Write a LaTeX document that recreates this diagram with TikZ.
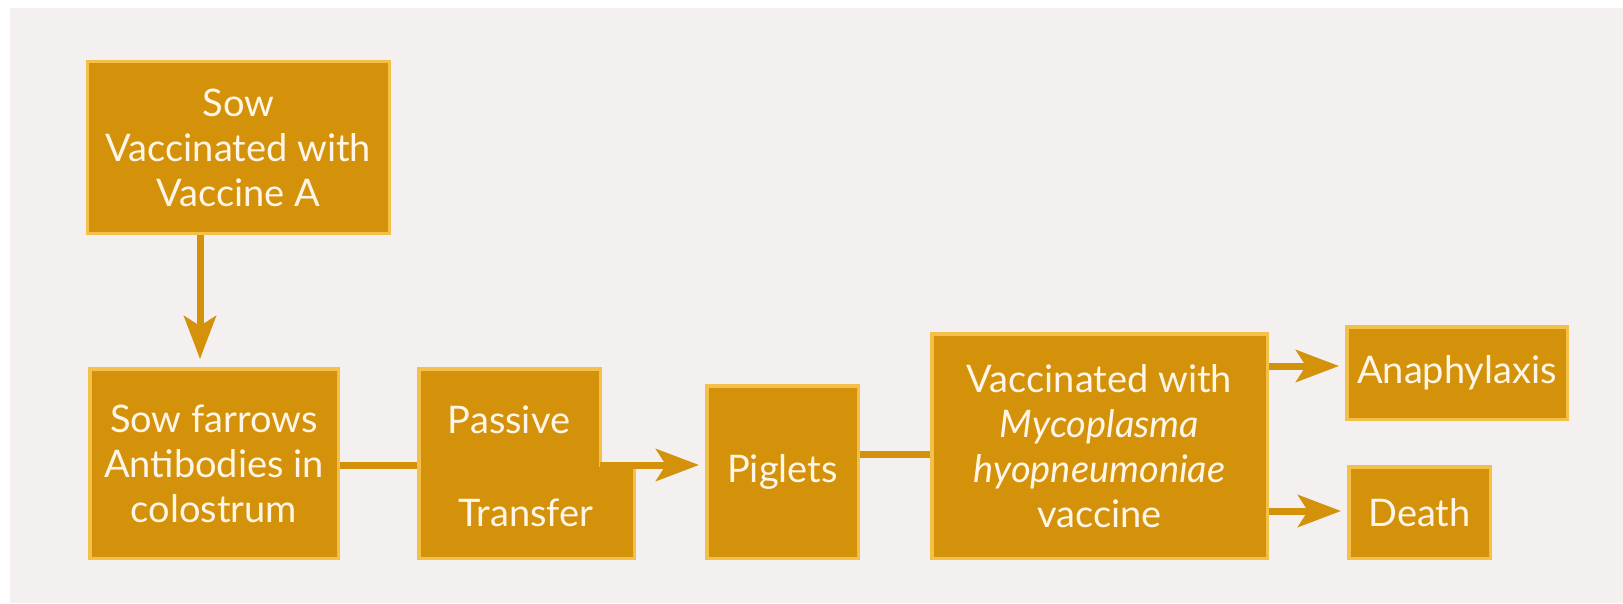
\documentclass[tikz,border=0pt]{standalone}
\usepackage{fontspec}
\setmainfont{Lato}
\usetikzlibrary{arrows.meta,calc}
\definecolor{bgc}{HTML}{F4F0EF}
\definecolor{boxfill}{HTML}{D4910A}
\definecolor{boxline}{HTML}{F5C04A}
\definecolor{txt}{HTML}{FFF6E8}
\begin{document}
\begin{tikzpicture}[x=1pt,y=-1pt,
  box/.style={draw=boxline, line width=3.5pt, fill=boxfill, text=txt, align=center,
    inner sep=0pt, font=\fontsize{38}{45}\selectfont},
  label/.style={text=txt, inner sep=0pt, font=\fontsize{38}{45}\selectfont},
  conn/.style={draw=boxfill, line width=7pt},
  arr/.style={conn, -{Stealth[length=43pt,width=32pt,inset=10pt]}}]
\fill[white] (0,0) rectangle (1623,603);
\fill[bgc] (10,8) rectangle (1623,603);
\useasboundingbox (0,0) rectangle (1623,603);

\node[box, minimum width=302pt, minimum height=172pt] (b1) at (238.5,147.5)
  {\rule{0pt}{29pt}Sow\\Vaccinated with\\Vaccine A};
\node[box, minimum width=248.5pt, minimum height=189.5pt] (b2) at (214,463.5)
  {Sow farrows\\Antibodies in\\colostrum};
\draw[draw=boxline, line width=3.5pt, fill=boxfill]
  (418.75,368.75) -- (600.25,368.75) -- (600.25,465) -- (634.25,465)
  -- (634.25,558.25) -- (418.75,558.25) -- cycle;
\coordinate (pw) at (417,465);
\coordinate (pstep) at (600,465);
\node[label, anchor=base] (passive) at (509,433) {Passive};
\node[label, anchor=base] (transfer) at (526,526) {Transfer};
\node[box, minimum width=151.5pt, minimum height=172.5pt] (piglets) at (782.5,472) {Piglets};
\node[box, minimum width=335.5pt, minimum height=224.5pt] (vacc) at (1099.5,446)
  {Vaccinated with\\\textit{Mycoplasma}\\\textit{hyopneumoniae}\\vaccine};
\node[box, minimum width=220.5pt, minimum height=92.5pt] (ana) at (1457,373) {Anaphylaxis};
\node[box, minimum width=141.5pt, minimum height=91.5pt] (death) at (1419.5,512.5) {Death};

\draw[arr, shorten >=8pt] ([xshift=-38.5pt]b1.south) -- ([xshift=-14pt]b2.north);
\draw[conn] (b2.east |- pw) -- (pw);
\draw[arr, shorten >=6pt] (pstep) -- (pstep -| piglets.west);
\coordinate (pv) at (piglets.east |- 0,454);
\draw[conn] (pv) -- (pv -| vacc.west);
\coordinate (va) at (vacc.east |- 0,366);
\draw[arr, shorten >=6pt] (va) -- (va -| ana.west);
\coordinate (vd) at (vacc.east |- 0,511);
\draw[arr, shorten >=6pt] (vd) -- (vd -| death.west);
\end{tikzpicture}
\end{document}
